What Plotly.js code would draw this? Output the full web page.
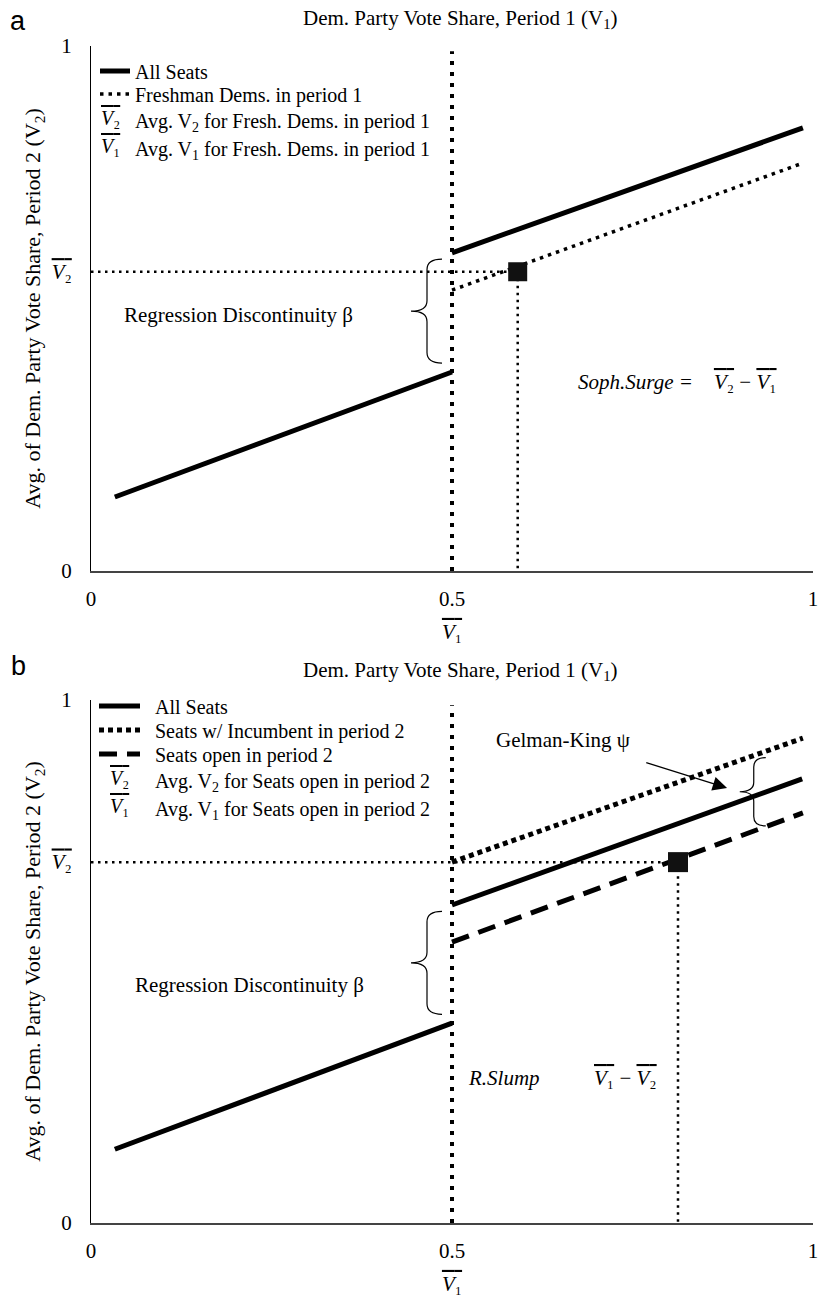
<!DOCTYPE html>
<html><head><meta charset="utf-8">
<script src="https://cdn.plot.ly/plotly-3.0.1.min.js"></script>
<style>html,body{margin:0;padding:0;background:#fff}</style>
</head><body>
<div id="chart" style="width:818px;height:1299px"></div>
<script>
// ---------------- data ----------------
const cutoff = 0.5;
const cutoffTop = 0.99;
const xTickVals = [0, 0.5, 1];
const xTickText = ['0', '0.5', '1'];

// Panel a
const aAllX = [0.033, 0.5, null, 0.5, 0.986];
const aAllY = [0.141, 0.379, null, 0.606, 0.844];
const aFreshX = [0.5, 0.986];
const aFreshY = [0.535, 0.777];
const aAvgV1 = 0.591;
const aAvgV2 = 0.570;

// Panel b
const bAllX = [0.033, 0.5, null, 0.5, 0.985];
const bAllY = [0.141, 0.382, null, 0.608, 0.849];
const bIncX = [0.5, 0.986];
const bIncY = [0.690, 0.927];
const bOpenX = [0.5, 0.986];
const bOpenY = [0.537, 0.784];
const bAvgV1 = 0.813;
const bAvgV2 = 0.690;

// legend labels
const aLegendNames = ['All Seats', 'Freshman Dems. in period 1',
  'Avg. V<sub>2</sub> for Fresh. Dems. in period 1', 'Avg. V<sub>1</sub> for Fresh. Dems. in period 1'];
const bLegendNames = ['All Seats', 'Seats w/ Incumbent in period 2', 'Seats open in period 2',
  'Avg. V<sub>2</sub> for Seats open in period 2', 'Avg. V<sub>1</sub> for Seats open in period 2'];

// ---------------- helpers ----------------
const W = 818, H = 1299;
const PL = 91, PR = 813;
const A_TOP = 46, A_BOT = 571, B_TOP = 700, B_BOT = 1223;
const px = v => v / W;
const py = v => 1 - v / H;
const SERIF = 'Liberation Serif, Times New Roman, serif';
const SUBD = {'1': '\u2081', '2': '\u2082'};
const bar = (s, n) => '<span style="text-decoration:overline"><i>' + s + '</i>' + SUBD[n] + '</span>';
const interp = (xs, ys, x) => ys[0] + (ys[1] - ys[0]) * (x - xs[0]) / (xs[1] - xs[0]);

function bracePath(xr, xm, xl, yTop, yBot, dy) {
  const ym = (yTop + yBot) / 2;
  return 'M' + xr + ',' + yTop +
    ' Q' + xm + ',' + yTop + ' ' + xm + ',' + (yTop - dy) +
    ' L' + xm + ',' + (ym + dy) +
    ' Q' + xm + ',' + ym + ' ' + xl + ',' + ym +
    ' Q' + xm + ',' + ym + ' ' + xm + ',' + (ym - dy) +
    ' L' + xm + ',' + (yBot + dy) +
    ' Q' + xm + ',' + yBot + ' ' + xr + ',' + yBot;
}

const K = 'black';
const traces = [];
function line(x, y, xa, ya, w, dash, extra) {
  return Object.assign({type: 'scatter', mode: 'lines', x: x, y: y, xaxis: xa, yaxis: ya,
    line: {color: K, width: w, dash: dash}, hoverinfo: 'skip', showlegend: false, connectgaps: false}, extra || {});
}
function noneTrace(x, y, xa, ya, name, lg) {
  return {type: 'scatter', mode: 'none', x: [x], y: [y], xaxis: xa, yaxis: ya, hoverinfo: 'skip',
    name: name, showlegend: true, legend: lg};
}
const NB = '&nbsp;&nbsp;';

// ---- Panel a traces ----
traces.push(line([cutoff, cutoff], [0, cutoffTop], 'x', 'y', 4, '4px,7px'));
traces.push(line([0, aAvgV1], [aAvgV2, aAvgV2], 'x', 'y', 2.5, '2.5px,4.5px'));
traces.push(line([aAvgV1, aAvgV1], [aAvgV2, 0], 'x', 'y', 2.5, '2.5px,4.5px'));
traces.push(line(aAllX, aAllY, 'x', 'y', 5, 'solid', {name: aLegendNames[0], showlegend: true, legend: 'legend'}));
traces.push(line(aFreshX, aFreshY, 'x', 'y', 3.5, '3.5px,5px', {name: aLegendNames[1], showlegend: true, legend: 'legend2'}));
traces.push(noneTrace(aAvgV1, aAvgV2, 'x', 'y', aLegendNames[2], 'legend3'));
traces.push(noneTrace(aAvgV1, aAvgV2, 'x', 'y', aLegendNames[3], 'legend4'));
traces.push({type: 'scatter', mode: 'markers', x: [aAvgV1], y: [aAvgV2], xaxis: 'x', yaxis: 'y', hoverinfo: 'skip',
  marker: {symbol: 'square', size: 19, color: '#111'}, showlegend: false});

// ---- Panel b traces ----
traces.push(line([cutoff, cutoff], [0, cutoffTop], 'x2', 'y2', 4, '4px,7px'));
traces.push(line([0, bAvgV1], [bAvgV2, bAvgV2], 'x2', 'y2', 2.5, '2.5px,4.5px'));
traces.push(line([bAvgV1, bAvgV1], [bAvgV2, 0], 'x2', 'y2', 2.5, '2.5px,4.5px'));
traces.push(line(bAllX, bAllY, 'x2', 'y2', 5, 'solid', {name: NB + bLegendNames[0], showlegend: true, legend: 'legend5'}));
traces.push(line(bIncX, bIncY, 'x2', 'y2', 5, '5px,4px', {name: NB + bLegendNames[1], showlegend: true, legend: 'legend6'}));
traces.push(line(bOpenX, bOpenY, 'x2', 'y2', 5, '18px,10px', {name: NB + bLegendNames[2], showlegend: true, legend: 'legend7'}));
traces.push(noneTrace(bAvgV1, bAvgV2, 'x2', 'y2', NB + bLegendNames[3], 'legend8'));
traces.push(noneTrace(bAvgV1, bAvgV2, 'x2', 'y2', NB + bLegendNames[4], 'legend9'));
traces.push({type: 'scatter', mode: 'markers', x: [bAvgV1], y: [bAvgV2], xaxis: 'x2', yaxis: 'y2', hoverinfo: 'skip',
  marker: {symbol: 'square', size: 20, color: '#111'}, showlegend: false});

// ---------------- axes ----------------
const fontBase = {family: SERIF, size: 21, color: K};
function xAxis(anchor) {
  return {domain: [px(PL), px(PR)], range: [0, 1], anchor: anchor, showline: true, linecolor: '#444', linewidth: 2,
    showgrid: false, zeroline: false, ticks: '', tickvals: xTickVals, ticktext: xTickText,
    tickfont: fontBase, ticklabelstandoff: 8, ticklabeloverflow: 'allow', fixedrange: true,
    title: {text: bar('V', '1'), font: fontBase, standoff: 14}};
}
function yAxis(anchor, top, bot, v2) {
  return {domain: [py(bot), py(top)], range: [0, 1], anchor: anchor, showline: true, linecolor: K, linewidth: 1,
    showgrid: false, zeroline: false, ticks: '', tickvals: [0, v2, 1], ticktext: ['0', bar('V', '2'), '1'],
    tickfont: fontBase, ticklabelstandoff: 14, fixedrange: true,
    title: {text: 'Avg. of Dem. Party Vote Share, Period 2 (V<sub>2</sub>)', font: {family: SERIF, size: 22, color: K}, standoff: 4}};
}

// ---------------- annotations ----------------
const ann = [];
const txt = (x, y, text, xref, yref, extra) => ann.push(Object.assign({x: x, y: y, xref: xref, yref: yref, text: text,
  showarrow: false, font: fontBase, xanchor: 'center', yanchor: 'middle'}, extra || {}));

// panel labels & top titles
txt(px(18), py(21), 'a', 'paper', 'paper', {font: {family: 'Liberation Sans, Arial, sans-serif', size: 27, color: K}});
txt(px(18), py(666), 'b', 'paper', 'paper', {font: {family: 'Liberation Sans, Arial, sans-serif', size: 27, color: K}});
txt(px(460), py(19), 'Dem. Party Vote Share, Period 1 (V<sub>1</sub>)', 'paper', 'paper');
txt(px(460), py(671), 'Dem. Party Vote Share, Period 1 (V<sub>1</sub>)', 'paper', 'paper');

// legend rows (pixel centres) and V-bar icons
const aRows = [71, 94, 120, 148];
const bRows = [706, 730, 754, 780, 808];
txt(px(111), py(aRows[2] - 2), bar('V', '2'), 'paper', 'paper', {font: {family: SERIF, size: 20, color: K}});
txt(px(111), py(aRows[3] - 2), bar('V', '1'), 'paper', 'paper', {font: {family: SERIF, size: 20, color: K}});
txt(px(119), py(bRows[3] - 2), bar('V', '2'), 'paper', 'paper', {font: {family: SERIF, size: 20, color: K}});
txt(px(119), py(bRows[4] - 2), bar('V', '1'), 'paper', 'paper', {font: {family: SERIF, size: 20, color: K}});

// panel a texts
txt(0.204, 0.488, 'Regression Discontinuity β', 'x', 'y');
txt(0.812, 0.36, '<i>Soph.Surge =</i>&nbsp;&nbsp;&nbsp;&nbsp;' + bar('V', '2') + ' − ' + bar('V', '1'), 'x', 'y');

// panel b texts
txt(0.219, 0.455, 'Regression Discontinuity β', 'x2', 'y2');
txt(0.519, 0.277, '<i>R.Slump</i>', 'x2', 'y2', {xanchor: 'left'});
txt(0.74, 0.277, bar('V', '1') + ' − ' + bar('V', '2'), 'x2', 'y2');
txt(0.654, 0.923, 'Gelman-King ψ', 'x2', 'y2');

// Gelman-King arrow
const gkX = 0.893;
ann.push({x: gkX - 0.012, y: interp(bIncX, bIncY, gkX) - 0.05, xref: 'x2', yref: 'y2',
  ax: 0.767, ay: 0.881, axref: 'x2', ayref: 'y2', text: '', showarrow: true,
  arrowhead: 2, arrowsize: 2.2, arrowwidth: 1.3, arrowcolor: K});

// ---------------- braces (computed from data) ----------------
const dxp = 1 / (PR - PL);
const shapes = [];
const braceLine = {color: K, width: 1.2};
shapes.push({type: 'path', xref: 'x', yref: 'y', line: braceLine,
  path: bracePath(cutoff - 10 * dxp, cutoff - 25 * dxp, cutoff - 41 * dxp, aAllY[3] - 0.012, aAllY[1] + 0.017, 0.02)});
shapes.push({type: 'path', xref: 'x2', yref: 'y2', line: braceLine,
  path: bracePath(cutoff - 10 * dxp, cutoff - 25 * dxp, cutoff - 41 * dxp, bAllY[3] - 0.012, bAllY[1] + 0.017, 0.02)});
const gm = gkX + 18 * dxp;
shapes.push({type: 'path', xref: 'x2', yref: 'y2', line: braceLine,
  path: bracePath(gm + 12 * dxp, gm, gm - 14 * dxp, interp(bIncX, bIncY, gm) - 0.004, interp(bOpenX, bOpenY, gm) + 0.01, 0.018)});

// ---------------- layout ----------------
const legendCommon = {bgcolor: 'rgba(0,0,0,0)', borderwidth: 0, font: {family: SERIF, size: 20, color: K},
  xanchor: 'left', yanchor: 'middle', traceorder: 'normal', itemclick: false, itemdoubleclick: false};

const layout = {
  width: W, height: H, margin: {l: 0, r: 0, t: 0, b: 0},
  paper_bgcolor: 'white', plot_bgcolor: 'white', showlegend: true,
  font: {family: SERIF, color: K},
  xaxis: xAxis('y'), yaxis: yAxis('x', A_TOP, A_BOT, aAvgV2),
  xaxis2: xAxis('y2'), yaxis2: yAxis('x2', B_TOP, B_BOT, bAvgV2),
  annotations: ann, shapes: shapes
};
const aLegIds = ['legend', 'legend2', 'legend3', 'legend4'];
const bLegIds = ['legend5', 'legend6', 'legend7', 'legend8', 'legend9'];
aLegIds.forEach((id, i) => { layout[id] = Object.assign({x: px(95), y: py(aRows[i]), itemwidth: 30}, legendCommon); });
bLegIds.forEach((id, i) => { layout[id] = Object.assign({x: px(94), y: py(bRows[i]), itemwidth: 41}, legendCommon); });

Plotly.newPlot('chart', traces, layout, {displayModeBar: false});
</script>
</body></html>
